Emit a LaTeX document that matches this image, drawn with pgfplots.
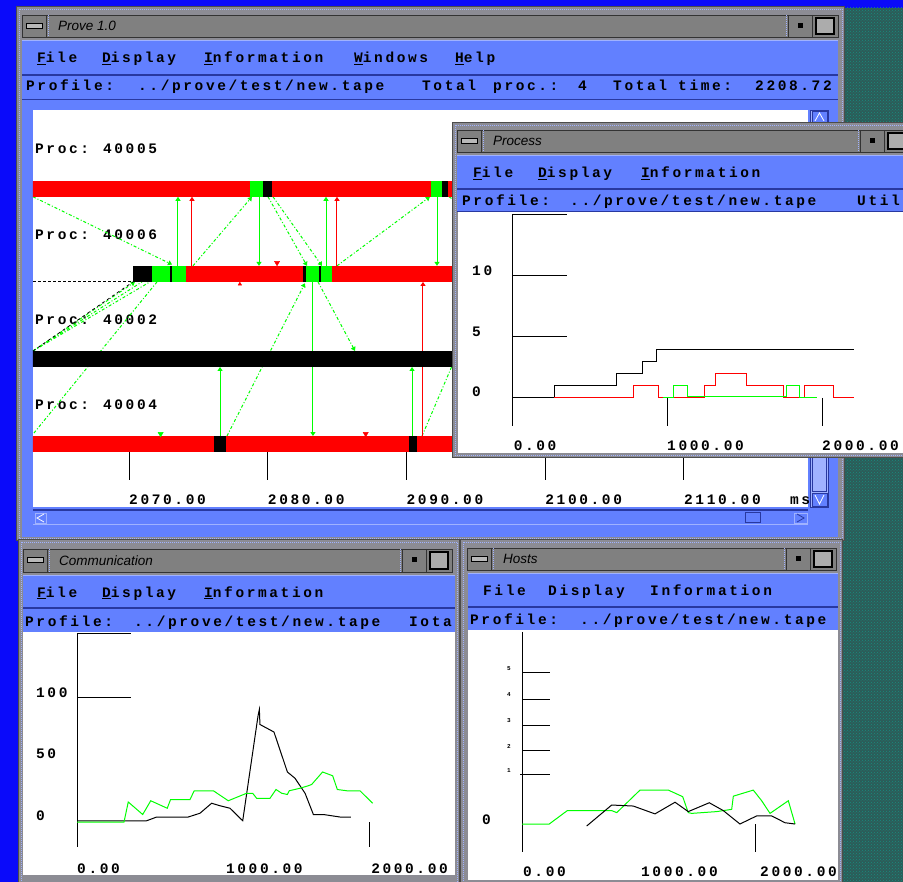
\documentclass[border=0pt]{standalone}
\usepackage{pgfplots}
\pgfplotsset{compat=1.18}
\usepackage{fontspec}
\usetikzlibrary{arrows.meta,patterns}

\newfontfamily\guifont{Liberation Mono}[LetterSpace=18]
\newfontfamily\titlefont{Liberation Sans}
\newcommand\gui{\guifont\bfseries\fontsize{14.5}{16}\selectfont}
\newcommand\tinygui{\guifont\bfseries\fontsize{6}{7}\selectfont}
\newcommand\ttl{\titlefont\itshape\fontsize{13.5}{15}\selectfont}

\definecolor{deskblue}{RGB}{10,10,250}
\definecolor{deskteal}{RGB}{44,92,88}
\definecolor{tealdot}{RGB}{24,140,128}
\definecolor{frameG}{RGB}{140,140,148}
\definecolor{titleG}{RGB}{128,128,128}
\definecolor{motif}{RGB}{98,128,255}
\definecolor{motifD}{RGB}{40,56,160}
\definecolor{motifL}{RGB}{160,178,255}
\definecolor{ggreen}{RGB}{0,255,0}
\definecolor{gred}{RGB}{255,0,0}

\tikzset{
  lbl/.style={anchor=base west, inner sep=0pt, font=\gui},
  msg/.style={ggreen, line width=1pt},
  msgr/.style={gred, line width=1pt},
  dd/.style={ggreen, line width=1pt, dash pattern=on 3pt off 2pt on 1pt off 2pt},
  tip/.style={-{Triangle[length=4pt,width=5pt]}},
  seg/.style={line width=16pt},
}

% window frame with dotted inner border
\newcommand\winframe[4]{%
  \fill[frameG] (#1,#2) rectangle (#3,#4);
  \draw[black!70, line width=1pt] (#1+0.5,#2+0.5) rectangle (#3-0.5,#4-0.5);
  \draw[motifL, line width=0.8pt, dash pattern=on 1pt off 1pt] (#1+3,#2+3) rectangle (#3-3,#4-3);
}
% title bar with menu button, title and the two window buttons
\newcommand\titlebar[5]{%
  \fill[titleG] (#1,#2) rectangle (#3,#4);
  \draw[black!80, line width=0.8pt] (#1,#2) rectangle (#3,#4);
  \draw[black!80, line width=0.8pt] (#1+24,#2) -- (#1+24,#4);
  \draw[motifL, line width=0.6pt, dash pattern=on 1pt off 1pt] (#1+26,#2) -- (#1+26,#4);
  \draw[black, fill=gray!55, line width=0.8pt] (#1+4,{(#2+#4)/2-3}) rectangle (#1+20,{(#2+#4)/2+2});
  \node[anchor=west, inner sep=0pt] at (#1+36,{(#2+#4)/2}) {\ttl #5};
  \draw[black!80, line width=0.8pt] (#3-50,#2) -- (#3-50,#4);
  \draw[motifL, line width=0.6pt, dash pattern=on 1pt off 1pt] (#3-52,#2) -- (#3-52,#4);
  \draw[black!80, line width=0.8pt] (#3-26,#2) -- (#3-26,#4);
  \fill[black] (#3-40,{(#2+#4)/2-3}) rectangle (#3-35,{(#2+#4)/2+2});
  \draw[black, line width=1.4pt, fill=gray!65] (#3-22,#2+3) rectangle (#3-4,#4-3);
}

\begin{document}
\begin{tikzpicture}
\useasboundingbox (0pt,0pt) rectangle (903pt,-882pt);
\clip (0pt,0pt) rectangle (903pt,-882pt);

%% ---------------- desktop and main window ----------------
\begin{scope}[x=1pt,y=-1pt]
  \fill[deskblue] (0,0) rectangle (903,882);
  \fill[deskteal] (843,8) rectangle (903,882);
  \fill[pattern=crosshatch dots, pattern color=tealdot] (843,8) rectangle (903,882);

  \winframe{16}{6}{845}{541}
  \titlebar{22}{15}{838}{37}{Prove 1.0}
  \fill[motif] (22,40) rectangle (838,537);
  \draw[motifL, line width=1pt] (22,40.5) -- (838,40.5);
  \draw[motifD, line width=1.5pt] (22,75) -- (838,75);
  \draw[motifD, line width=1.5pt] (22,99.5) -- (838,99.5);
  \begin{scope}
    \clip (22,40) rectangle (838,110);
    \node[lbl] at (37,63) {\underline{F}ile};
    \node[lbl] at (102,63) {\underline{D}isplay};
    \node[lbl] at (204,63) {\underline{I}nformation};
    \node[lbl] at (354,63) {\underline{W}indows};
    \node[lbl] at (455,63) {\underline{H}elp};
    \node[lbl] at (26,91) {Profile:};
    \node[lbl] at (138,91) {../prove/test/new.tape};
    \node[lbl] at (422,91) {Total};
    \node[lbl] at (493,91) {proc.:};
    \node[lbl] at (578,91) {4};
    \node[lbl] at (613,91) {Total};
    \node[lbl] at (678,91) {time:};
    \node[lbl] at (755,91) {2208.72};
  \end{scope}
  \fill[white] (33,110) rectangle (808,507);
  % vertical scrollbar
  \fill[motifL] (810,110) rectangle (828,507);
  \draw[motifD, line width=0.8pt] (810,110) rectangle (828,507);
  \draw[motifD, line width=0.8pt] (812,125) rectangle (826,491);
  \draw[motifD, line width=0.8pt, fill=motif] (812,111) rectangle (827,123);
  \draw[white, line width=0.8pt] (815,121) -- (819.5,113) -- (824,121);
  \draw[motifD, line width=0.8pt, fill=motif] (812,493) rectangle (827,506);
  \draw[white, line width=0.8pt] (815,495) -- (819.5,504) -- (824,495);
  % horizontal scrollbar
  \draw[motifD, line width=1.5pt] (33,510) -- (808,510);
  \draw[motifL, line width=0.8pt] (33,524.5) -- (808,524.5);
  \draw[motifL, line width=0.8pt] (35,513) rectangle (46,523);
  \draw[white, line width=0.8pt] (44,514) -- (37,518) -- (44,522);
  \draw[motifL, line width=0.8pt] (794,513) rectangle (807,523);
  \draw[motifD, line width=0.8pt] (797,514) -- (804,518) -- (797,522);
  \draw[motifD, line width=1pt] (745,513) rectangle (760,523);
\end{scope}

%% ---------------- trace view: one lane per process ----------------
\begin{axis}[at={(33pt,-110pt)}, anchor=north west, scale only axis,
  width=775pt, height=397pt, hide axis,
  xmin=2063.08, xmax=2118.94, ymin=-0.926, ymax=3.74, y dir=reverse]
  \node[lbl] at (2063.22,-0.416) {Proc:\hspace{14pt}40005};
  \node[lbl] at (2063.22,0.598) {Proc:\hspace{14pt}40006};
  \node[lbl] at (2063.22,1.594) {Proc:\hspace{14pt}40002};
  \node[lbl] at (2063.22,2.592) {Proc:\hspace{14pt}40004};

  % messages between processes (dash-dotted)
  \addplot[dd, tip] coordinates {(2063.08,0.094) (2073.10,0.89)};
  \addplot[dd, tip] coordinates {(2074.61,0.906) (2078.86,0.094)};
  \addplot[dd, tip] coordinates {(2080.02,0.094) (2082.83,0.906)};
  \addplot[dd, tip] coordinates {(2080.38,0.094) (2083.91,0.906)};
  \addplot[dd, tip] coordinates {(2084.99,0.906) (2091.69,0.094)};
  \addplot[dd] coordinates {(2093.06,0.094) (2101.06,0.906)};
  \addplot[dd, tip] coordinates {(2063.08,1.906) (2070.43,1.094)};
  \addplot[dd] coordinates {(2063.08,1.906) (2070.94,1.094)};
  \addplot[dd] coordinates {(2063.08,1.906) (2071.51,1.094)};
  \addplot[black, line width=0.8pt, dashed] coordinates {(2063.08,1.906) (2070.29,1.094)};
  \addplot[dd] coordinates {(2072.02,1.094) (2063.08,2.884)};
  \addplot[dd, tip] coordinates {(2077.06,2.906) (2082.68,1.11)};
  \addplot[dd, tip] coordinates {(2083.62,1.094) (2086.29,1.906)};
  \addplot[dd] coordinates {(2091.12,2.906) (2095.87,1.094)};
  \addplot[black, line width=0.8pt, dash pattern=on 3pt off 2pt] coordinates {(2063.08,1.09) (2070.29,1.09)};

  % direct transfers (solid)
  \addplot[msg, tip] coordinates {(2073.53,0.906) (2073.53,0.094)};
  \addplot[msg, tip] coordinates {(2079.37,0.094) (2079.37,0.906)};
  \addplot[msg, tip] coordinates {(2084.20,0.906) (2084.20,0.094)};
  \addplot[msg, tip] coordinates {(2092.20,0.094) (2092.20,0.906)};
  \addplot[msg, tip] coordinates {(2083.26,1.094) (2083.26,2.906)};
  \addplot[msg, tip] coordinates {(2090.40,2.906) (2090.40,2.094)};
  \addplot[msg, tip] coordinates {(2076.56,2.906) (2076.56,2.094)};
  \addplot[msgr, tip] coordinates {(2074.54,0.906) (2074.54,0.094)};
  \addplot[msgr, tip] coordinates {(2084.99,0.906) (2084.99,0.094)};
  \addplot[msgr, tip] coordinates {(2091.19,2.906) (2091.19,1.094)};

  % Proc 40005
  \addplot[seg, gred]   coordinates {(2063.0,0) (2078.70,0)};
  \addplot[seg, ggreen] coordinates {(2078.70,0) (2079.66,0)};
  \addplot[seg, black]  coordinates {(2079.66,0) (2080.31,0)};
  \addplot[seg, gred]   coordinates {(2080.31,0) (2091.77,0)};
  \addplot[seg, ggreen] coordinates {(2091.77,0) (2092.56,0)};
  \addplot[seg, black]  coordinates {(2092.56,0) (2092.99,0)};
  \addplot[seg, gred]   coordinates {(2092.99,0) (2119.0,0)};
  % Proc 40006
  \addplot[seg, black]  coordinates {(2070.29,1) (2071.66,1)};
  \addplot[seg, ggreen] coordinates {(2071.66,1) (2074.11,1)};
  \addplot[seg, black]  coordinates {(2072.95,1) (2073.10,1)};
  \addplot[seg, gred]   coordinates {(2074.11,1) (2082.54,1)};
  \addplot[seg, black]  coordinates {(2082.54,1) (2082.76,1)};
  \addplot[seg, ggreen] coordinates {(2082.76,1) (2084.63,1)};
  \addplot[seg, black]  coordinates {(2083.69,1) (2083.84,1)};
  \addplot[seg, gred]   coordinates {(2084.63,1) (2119.0,1)};
  % Proc 40002
  \addplot[seg, black]  coordinates {(2063.0,2) (2119.0,2)};
  % Proc 40004
  \addplot[seg, gred]   coordinates {(2063.0,3) (2076.13,3)};
  \addplot[seg, black]  coordinates {(2076.13,3) (2076.99,3)};
  \addplot[seg, gred]   coordinates {(2076.99,3) (2090.18,3)};
  \addplot[seg, black]  coordinates {(2090.18,3) (2090.76,3)};
  \addplot[seg, gred]   coordinates {(2090.76,3) (2119.0,3)};

  % event marks
  \addplot[only marks, mark=triangle*, mark size=3pt, gred, mark options={rotate=180}]
    coordinates {(2080.67,0.87) (2087.06,2.88)};
  \addplot[only marks, mark=triangle*, mark size=3pt, ggreen, mark options={rotate=180}]
    coordinates {(2072.28,2.88)};
  \addplot[only marks, mark=triangle*, mark size=2pt, gred]
    coordinates {(2077.99,1.12)};

  % time axis
  \draw[black, line width=1pt] (2070,3.094) -- (2070,3.423) (2080,3.094) -- (2080,3.423)
    (2090,3.094) -- (2090,3.423) (2100,3.094) -- (2100,3.423) (2110,3.094) -- (2110,3.423);
  \node[lbl] at (2070,3.71) {2070.00};
  \node[lbl] at (2080,3.71) {2080.00};
  \node[lbl] at (2090,3.71) {2090.00};
  \node[lbl] at (2100,3.71) {2100.00};
  \node[lbl] at (2110,3.71) {2110.00};
  \node[lbl] at (2117.64,3.71) {ms};
\end{axis}

%% ---------------- Process window ----------------
\begin{scope}[x=1pt,y=-1pt]
  \winframe{452}{122}{910}{458}
  \titlebar{457}{130}{910}{152}{Process}
  \fill[motif] (457,155) rectangle (910,212);
  \draw[motifL, line width=1pt] (457,155.5) -- (910,155.5);
  \draw[motifD, line width=1.5pt] (457,189) -- (910,189);
  \draw[motifD, line width=1pt] (457,211.5) -- (910,211.5);
  \node[lbl] at (473,178) {\underline{F}ile};
  \node[lbl] at (538,178) {\underline{D}isplay};
  \node[lbl] at (641,178) {\underline{I}nformation};
  \node[lbl] at (462,206) {Profile:};
  \node[lbl] at (570,206) {../prove/test/new.tape};
  \node[lbl] at (857,206) {Util};
  \fill[white] (458,212) rectangle (910,453);
\end{scope}

\begin{axis}[at={(458pt,-212pt)}, anchor=north west, scale only axis,
  width=445pt, height=241pt, hide axis,
  xmin=-348.4, xmax=2522.6, ymin=-4.508, ymax=15.246]
  \draw[black, line width=1pt] (0,15) -- (0,-2.3);
  \draw[black, line width=1pt] (0,15) -- (355,15) (0,10) -- (355,10) (0,5) -- (355,5);
  \draw[black, line width=1pt] (1000,0) -- (1000,-2.3) (2000,0) -- (2000,-2.3);
  \node[lbl] at (-258,10) {10};
  \node[lbl] at (-258,5) {5};
  \node[lbl] at (-258,0.1) {0};
  \node[lbl] at (10,-4.32) {0.00};
  \node[lbl] at (1000,-4.32) {1000.00};
  \node[lbl] at (2000,-4.32) {2000.00};
  \addplot[const plot, black, line width=1pt] coordinates
    {(0,0) (271,1) (677,2) (845,3) (935,4) (2208.72,4)};
  \addplot[const plot, gred, line width=1pt] coordinates
    {(271,0) (781,1) (948,0) (1245,1) (1316,2) (1510,1) (1749,0) (1890,1) (2071,0) (2208.72,0)};
  \addplot[const plot, ggreen, line width=1pt] coordinates
    {(975,0) (1039,1) (1135,0.15) (1774,1) (1852,0) (1968,0)};
\end{axis}

%% ---------------- Communication window ----------------
\begin{scope}[x=1pt,y=-1pt]
  \winframe{18}{539}{460}{892}
  \titlebar{23}{549}{452}{572}{Communication}
  \fill[motif] (23,575) rectangle (455,632);
  \draw[motifL, line width=1pt] (23,575.5) -- (455,575.5);
  \draw[motifD, line width=1.5pt] (23,608) -- (455,608);
  \begin{scope}
    \clip (23,575) rectangle (455,632);
    \node[lbl] at (37,597) {\underline{F}ile};
    \node[lbl] at (102,597) {\underline{D}isplay};
    \node[lbl] at (204,597) {\underline{I}nformation};
    \node[lbl] at (25,626) {Profile:};
    \node[lbl] at (134,626) {../prove/test/new.tape};
    \node[lbl] at (409,626) {Iota};
  \end{scope}
  \fill[white] (23,632) rectangle (455,875);
\end{scope}

\begin{axis}[at={(23pt,-632pt)}, anchor=north west, scale only axis,
  width=432pt, height=243pt, hide axis,
  xmin=-369.9, xmax=2589, ymin=-42.4, ymax=152]
  \draw[black, line width=1pt] (0,151) -- (0,-20);
  \draw[black, line width=1pt] (0,151) -- (370,151) (0,100) -- (370,100);
  \draw[black, line width=1pt] (2000,0) -- (2000,-20);
  \node[lbl] at (-281,100) {100};
  \node[lbl] at (-281,51) {50};
  \node[lbl] at (-281,1.5) {0};
  \node[lbl] at (0,-40.8) {0.00};
  \node[lbl] at (1020,-40.8) {1000.00};
  \node[lbl] at (2014,-40.8) {2000.00};
  \addplot[black, line width=1pt] coordinates
    {(0,1) (477,1) (546,4) (762,4) (842,7) (922,15) (979,13) (1048,11) (1135,1)
     (1240,85) (1249,90) (1253,78) (1349,72) (1441,40) (1493,35) (1562,23)
     (1619,6) (1687,6) (1801,4) (1875,4)};
  \addplot[ggreen, line width=1pt] coordinates
    {(0,0) (322,0) (351,16) (450,6) (505,17) (618,11) (641,18) (774,18) (803,25)
     (934,25) (1036,17) (1162,23) (1203,23) (1230,19) (1322,19) (1363,26)
     (1402,23) (1441,22) (1454,25) (1527,27) (1584,29) (1607,30) (1682,40)
     (1751,37) (1783,26) (1847,25) (1938,25) (2025,15)};
\end{axis}

%% ---------------- Hosts window ----------------
\begin{scope}[x=1pt,y=-1pt]
  \winframe{460}{539}{843}{892}
  \titlebar{467}{548}{836}{570}{Hosts}
  \fill[motif] (468,573) rectangle (838,630);
  \draw[motifL, line width=1pt] (468,573.5) -- (838,573.5);
  \draw[motifD, line width=1.5pt] (468,607) -- (838,607);
  \begin{scope}
    \clip (468,573) rectangle (838,630);
    \node[lbl] at (483,595) {File};
    \node[lbl] at (548,595) {Display};
    \node[lbl] at (650,595) {Information};
    \node[lbl] at (470,624) {Profile:};
    \node[lbl] at (580,624) {../prove/test/new.tape};
  \end{scope}
  \fill[white] (468,630) rectangle (838,880);
\end{scope}

\begin{axis}[at={(468pt,-630pt)}, anchor=north west, scale only axis,
  width=370pt, height=250pt, hide axis,
  xmin=-457.6, xmax=2678, ymin=-2.213, ymax=7.668]
  \draw[black, line width=1pt] (0,7.59) -- (0,-1.107);
  \draw[black, line width=1pt] (0,5.97) -- (235,5.97) (0,4.94) -- (235,4.94)
    (0,3.91) -- (235,3.91) (0,2.92) -- (235,2.92) (-15,1.94) -- (235,1.94);
  \draw[black, line width=1pt] (1983,0) -- (1983,-1.107);
  \node[anchor=base west, inner sep=0pt, font=\tinygui] at (-127,6.05) {5};
  \node[anchor=base west, inner sep=0pt, font=\tinygui] at (-127,5.02) {4};
  \node[anchor=base west, inner sep=0pt, font=\tinygui] at (-127,4.0) {3};
  \node[anchor=base west, inner sep=0pt, font=\tinygui] at (-127,3.0) {2};
  \node[anchor=base west, inner sep=0pt, font=\tinygui] at (-127,2.02) {1};
  \node[lbl] at (-339,0) {0};
  \node[lbl] at (8,-2.08) {0.00};
  \node[lbl] at (1008,-2.08) {1000.00};
  \node[lbl] at (2017,-2.08) {2000.00};
  \addplot[ggreen, line width=1pt] coordinates
    {(0,0) (231,0) (384,0.53) (760,0.53) (803,0.45) (1000,1.34) (1240,1.34)
     (1362,1.08) (1409,0.45) (1438,0.42) (1650,0.49) (1777,0.58) (1791,1.1)
     (1960,1.34) (2031,0.92) (2102,0.42) (2257,0.92) (2314,0)};
  \addplot[black, line width=1pt] coordinates
    {(548,-0.08) (760,0.75) (943,0.71) (1127,0.4) (1297,0.86) (1409,0.49)
     (1587,0.84) (1706,0.53) (1847,0) (1989,0.32) (2116,0.32) (2229,0.05) (2314,0)};
\end{axis}
\end{tikzpicture}
\end{document}
